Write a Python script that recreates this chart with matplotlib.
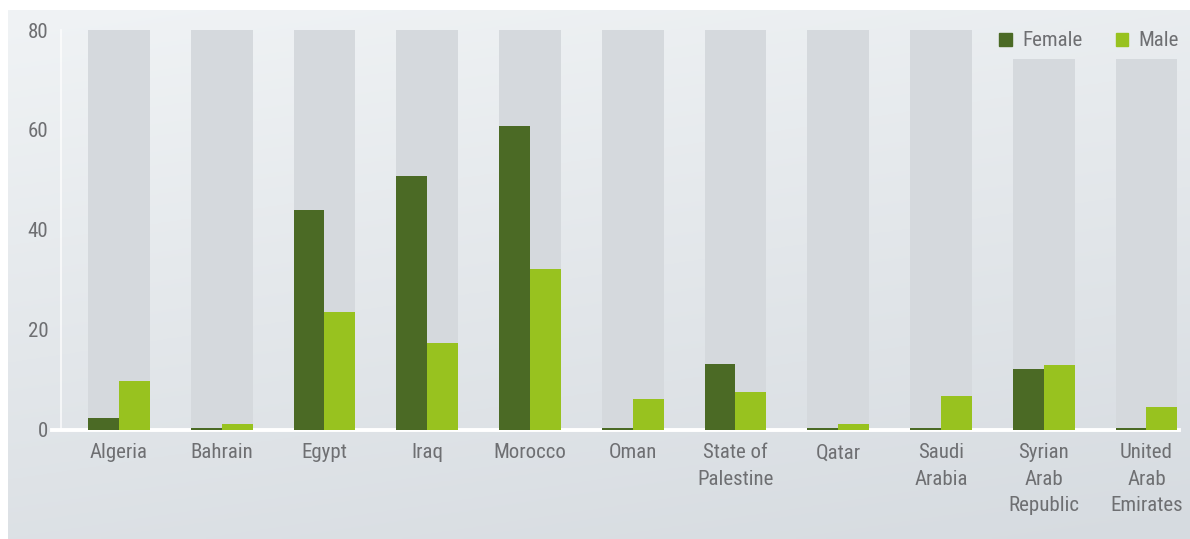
import os
import numpy as np
import matplotlib
matplotlib.use("Agg")
import matplotlib.pyplot as plt
from matplotlib import font_manager
from matplotlib.font_manager import FontProperties
from matplotlib.patches import Patch

countries = ["Algeria", "Bahrain", "Egypt", "Iraq", "Morocco", "Oman",
             "State of\nPalestine", "Qatar", "Saudi\nArabia",
             "Syrian\nArab\nRepublic", "United\nArab\nEmirates"]
female = [2.4, 0.4, 43.9, 50.8, 60.7, 0.4, 13.1, 0.4, 0.4, 12.2, 0.4]
male = [9.8, 1.2, 23.5, 17.3, 32.2, 6.1, 7.5, 1.1, 6.8, 13.0, 4.6]
backdrop = [80, 80, 80, 80, 80, 80, 80, 80, 80, 74.2, 74.2]
yticks = [0, 20, 40, 60, 80]

# pick a narrow/condensed regular face if one is installed
preferred = ["robotocondensed-regular", "robotocondensed-light",
             "liberationsansnarrow-regular", "opensans_condensed-regular",
             "opensanscondensed-regular", "opensans-condensedregular",
             "notosans-condensed", "dejavusanscondensed."]
files = [f.fname for f in font_manager.fontManager.ttflist]
chosen = None
for key in preferred:
    for fn in files:
        if key in os.path.basename(fn).lower():
            chosen = fn
            break
    if chosen:
        break
if chosen is None:
    for fn in files:
        b = os.path.basename(fn).lower()
        if ("condensed" in b or "narrow" in b) and not any(
                s in b for s in ["bold", "italic", "oblique", "black", "semi", "extra", "medium", "thin"]):
            chosen = fn
            break

if chosen:
    fp = FontProperties(fname=chosen, size=15)
else:
    fp = FontProperties(family="DejaVu Sans", size=11)

W, H = 1190, 539
fig = plt.figure(figsize=(W / 100, H / 100), dpi=100)
fig.patch.set_facecolor("white")

# soft grey gradient panel behind the chart
bg = fig.add_axes([8 / W, 0, 1 - 8 / W, 1 - 10 / H])
bg.set_axis_off()
yy = np.linspace(0, 1, 200)[:, None]
xx = np.linspace(0, 1, 300)[None, :]
t = np.clip(0.75 * yy + 0.25 * xx, 0, 1)
top = np.array([240, 243, 245]) / 255
bot = np.array([214, 219, 224]) / 255
img = top[None, None, :] * (1 - t[..., None]) + bot[None, None, :] * t[..., None]
bg.imshow(img, aspect="auto", extent=[0, 1, 0, 1], origin="upper")
bg.set_xlim(0, 1)
bg.set_ylim(0, 1)

ax = fig.add_axes([61 / W, (H - 429.5) / H, (1185 - 61) / W, 399.5 / H])
ax.patch.set_alpha(0)

x = np.arange(len(countries))
col_w = 0.6
bar_w = col_w / 2

ax.bar(x, backdrop, width=col_w, color="#d5d9dd", zorder=1)
ax.bar(x - bar_w / 2, female, width=bar_w, color="#4b6a25", zorder=2)
ax.bar(x + bar_w / 2, male, width=bar_w, color="#98c21f", zorder=2)

ax.set_xlim(-0.5645, 10.375)
ax.set_ylim(0, 80)

ax.axhline(0, xmin=-0.008, xmax=0.995, color="white", lw=2.8, zorder=1.5, clip_on=False)
for side in ["top", "right", "bottom"]:
    ax.spines[side].set_visible(False)
ax.spines["left"].set_color("white")
ax.spines["left"].set_linewidth(1.2)
ax.spines["left"].set_alpha(0.8)

txt = "#6e6f72"
ax.set_yticks(yticks)
ax.set_yticklabels([str(v) for v in yticks], fontproperties=fp, color=txt)
ax.set_xticks(x)
ax.set_xticklabels(countries, fontproperties=fp, color=txt, linespacing=1.5)
ax.tick_params(axis="y", length=0, pad=9)
ax.tick_params(axis="x", length=0, pad=10)

handles = [Patch(color="#4b6a25", label="Female"), Patch(color="#98c21f", label="Male")]
leg = fig.legend(handles=handles, loc="center right", bbox_to_anchor=(1179 / W, 1 - 41 / H),
                 ncol=2, frameon=False, prop=fp, labelcolor=txt,
                 handlelength=0.6, handleheight=0.6, handletextpad=0.5, columnspacing=1.6,
                 borderaxespad=0, borderpad=0)

fig.savefig("out.png", dpi=100, facecolor=fig.get_facecolor())
